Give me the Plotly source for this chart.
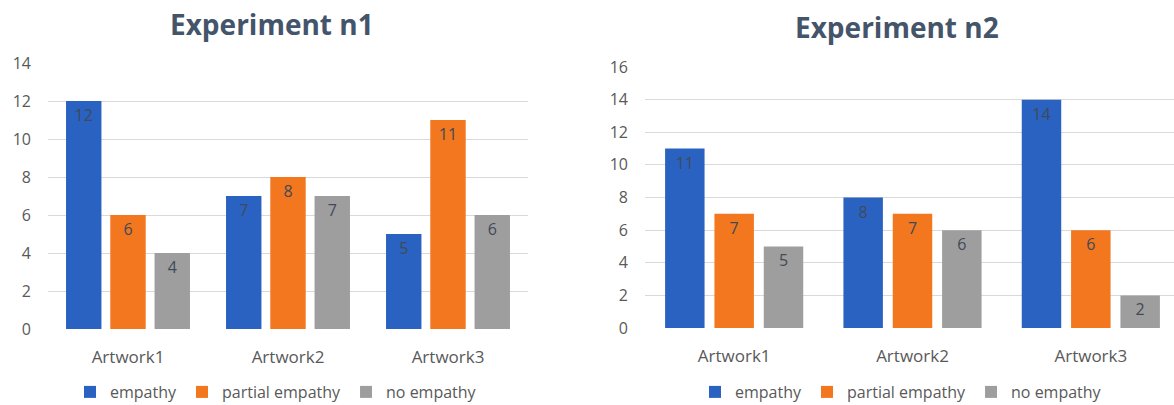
import plotly.graph_objects as go

categories = ["Artwork1", "Artwork2", "Artwork3"]
series_names = ["empathy", "partial empathy", "no empathy"]

exp1_empathy = [12, 7, 5]
exp1_partial = [6, 8, 11]
exp1_none = [4, 7, 6]

exp2_empathy = [11, 8, 14]
exp2_partial = [7, 7, 6]
exp2_none = [5, 6, 2]

titles = ["Experiment n1", "Experiment n2"]
y1_ticks = [0, 2, 4, 6, 8, 10, 12, 14]
y2_ticks = [0, 2, 4, 6, 8, 10, 12, 14, 16]

colors = ["#2A62C2", "#F2771F", "#9E9E9E"]
FONT = "Open Sans"
TXT = "#595959"
LBL = "#404A58"

fig = go.Figure()

exp1 = [exp1_empathy, exp1_partial, exp1_none]
exp2 = [exp2_empathy, exp2_partial, exp2_none]

for name, vals, col in zip(series_names, exp1, colors):
    fig.add_trace(go.Bar(
        x=categories, y=vals, name=name, marker=dict(color=col, line=dict(width=0)),
        texttemplate="%{y}", textposition="inside", insidetextanchor="end",
        textangle=0, constraintext="none",
        textfont=dict(family=FONT, size=16, color=LBL),
        xaxis="x", yaxis="y", legend="legend", hoverinfo="skip"))

for name, vals, col in zip(series_names, exp2, colors):
    fig.add_trace(go.Bar(
        x=categories, y=vals, name=name, marker=dict(color=col, line=dict(width=0)),
        texttemplate="%{y}", textposition="inside", insidetextanchor="end",
        textangle=0, constraintext="none",
        textfont=dict(family=FONT, size=16, color=LBL),
        xaxis="x2", yaxis="y2", legend="legend2", hoverinfo="skip"))

W, H = 1174, 405

axis_common = dict(showgrid=True, gridcolor="#D9D9D9", gridwidth=1, zeroline=False,
                   showline=False, ticks="", tickfont=dict(family=FONT, size=16, color=TXT))

xfont = dict(family=FONT, size=17, color=TXT)

fig.update_layout(
    width=W, height=H,
    margin=dict(l=0, r=0, t=0, b=0, autoexpand=False),
    paper_bgcolor="white", plot_bgcolor="white",
    barmode="group", bargap=0.17, bargroupgap=0.2,
    font=dict(family=FONT, color=TXT),
    xaxis=dict(domain=[48 / W, 528 / W], anchor="y", showgrid=False, zeroline=False,
               showline=False, ticks="", ticklabelstandoff=16,
               tickfont=xfont, range=[-0.5, 2.5]),
    yaxis=dict(domain=[1 - 329 / H, 1 - 63 / H], anchor="x", range=[0, 14],
               tickvals=y1_ticks, ticklabelstandoff=16, **axis_common),
    xaxis2=dict(domain=[645 / W, 1.0], anchor="y2", showgrid=False, zeroline=False,
                showline=False, ticks="", ticklabelstandoff=16,
                tickfont=xfont, range=[-0.5, 2.5 - 6 / 178.5]),
    yaxis2=dict(domain=[1 - 328 / H, 1 - 67 / H], anchor="x2", range=[0, 16],
                tickvals=y2_ticks, ticklabelstandoff=16, **axis_common),
    legend=dict(orientation="h", x=276 / W, xanchor="center", y=1 - 392 / H, yanchor="middle",
                font=dict(family=FONT, size=16, color=TXT), itemwidth=30,
                bgcolor="rgba(0,0,0,0)"),
    legend2=dict(orientation="h", x=901 / W, xanchor="center", y=1 - 392 / H, yanchor="middle",
                 font=dict(family=FONT, size=16, color=TXT), itemwidth=30,
                 bgcolor="rgba(0,0,0,0)"),
    showlegend=True,
    annotations=[
        dict(text="<b>" + titles[0] + "</b>", x=272 / W, y=1 - 24 / H, xref="paper", yref="paper",
             xanchor="center", yanchor="middle", showarrow=False,
             font=dict(family=FONT, size=28, color="#44546A")),
        dict(text="<b>" + titles[1] + "</b>", x=897 / W, y=1 - 27 / H, xref="paper", yref="paper",
             xanchor="center", yanchor="middle", showarrow=False,
             font=dict(family=FONT, size=28, color="#44546A")),
    ],
)

fig.write_html("out.html")
